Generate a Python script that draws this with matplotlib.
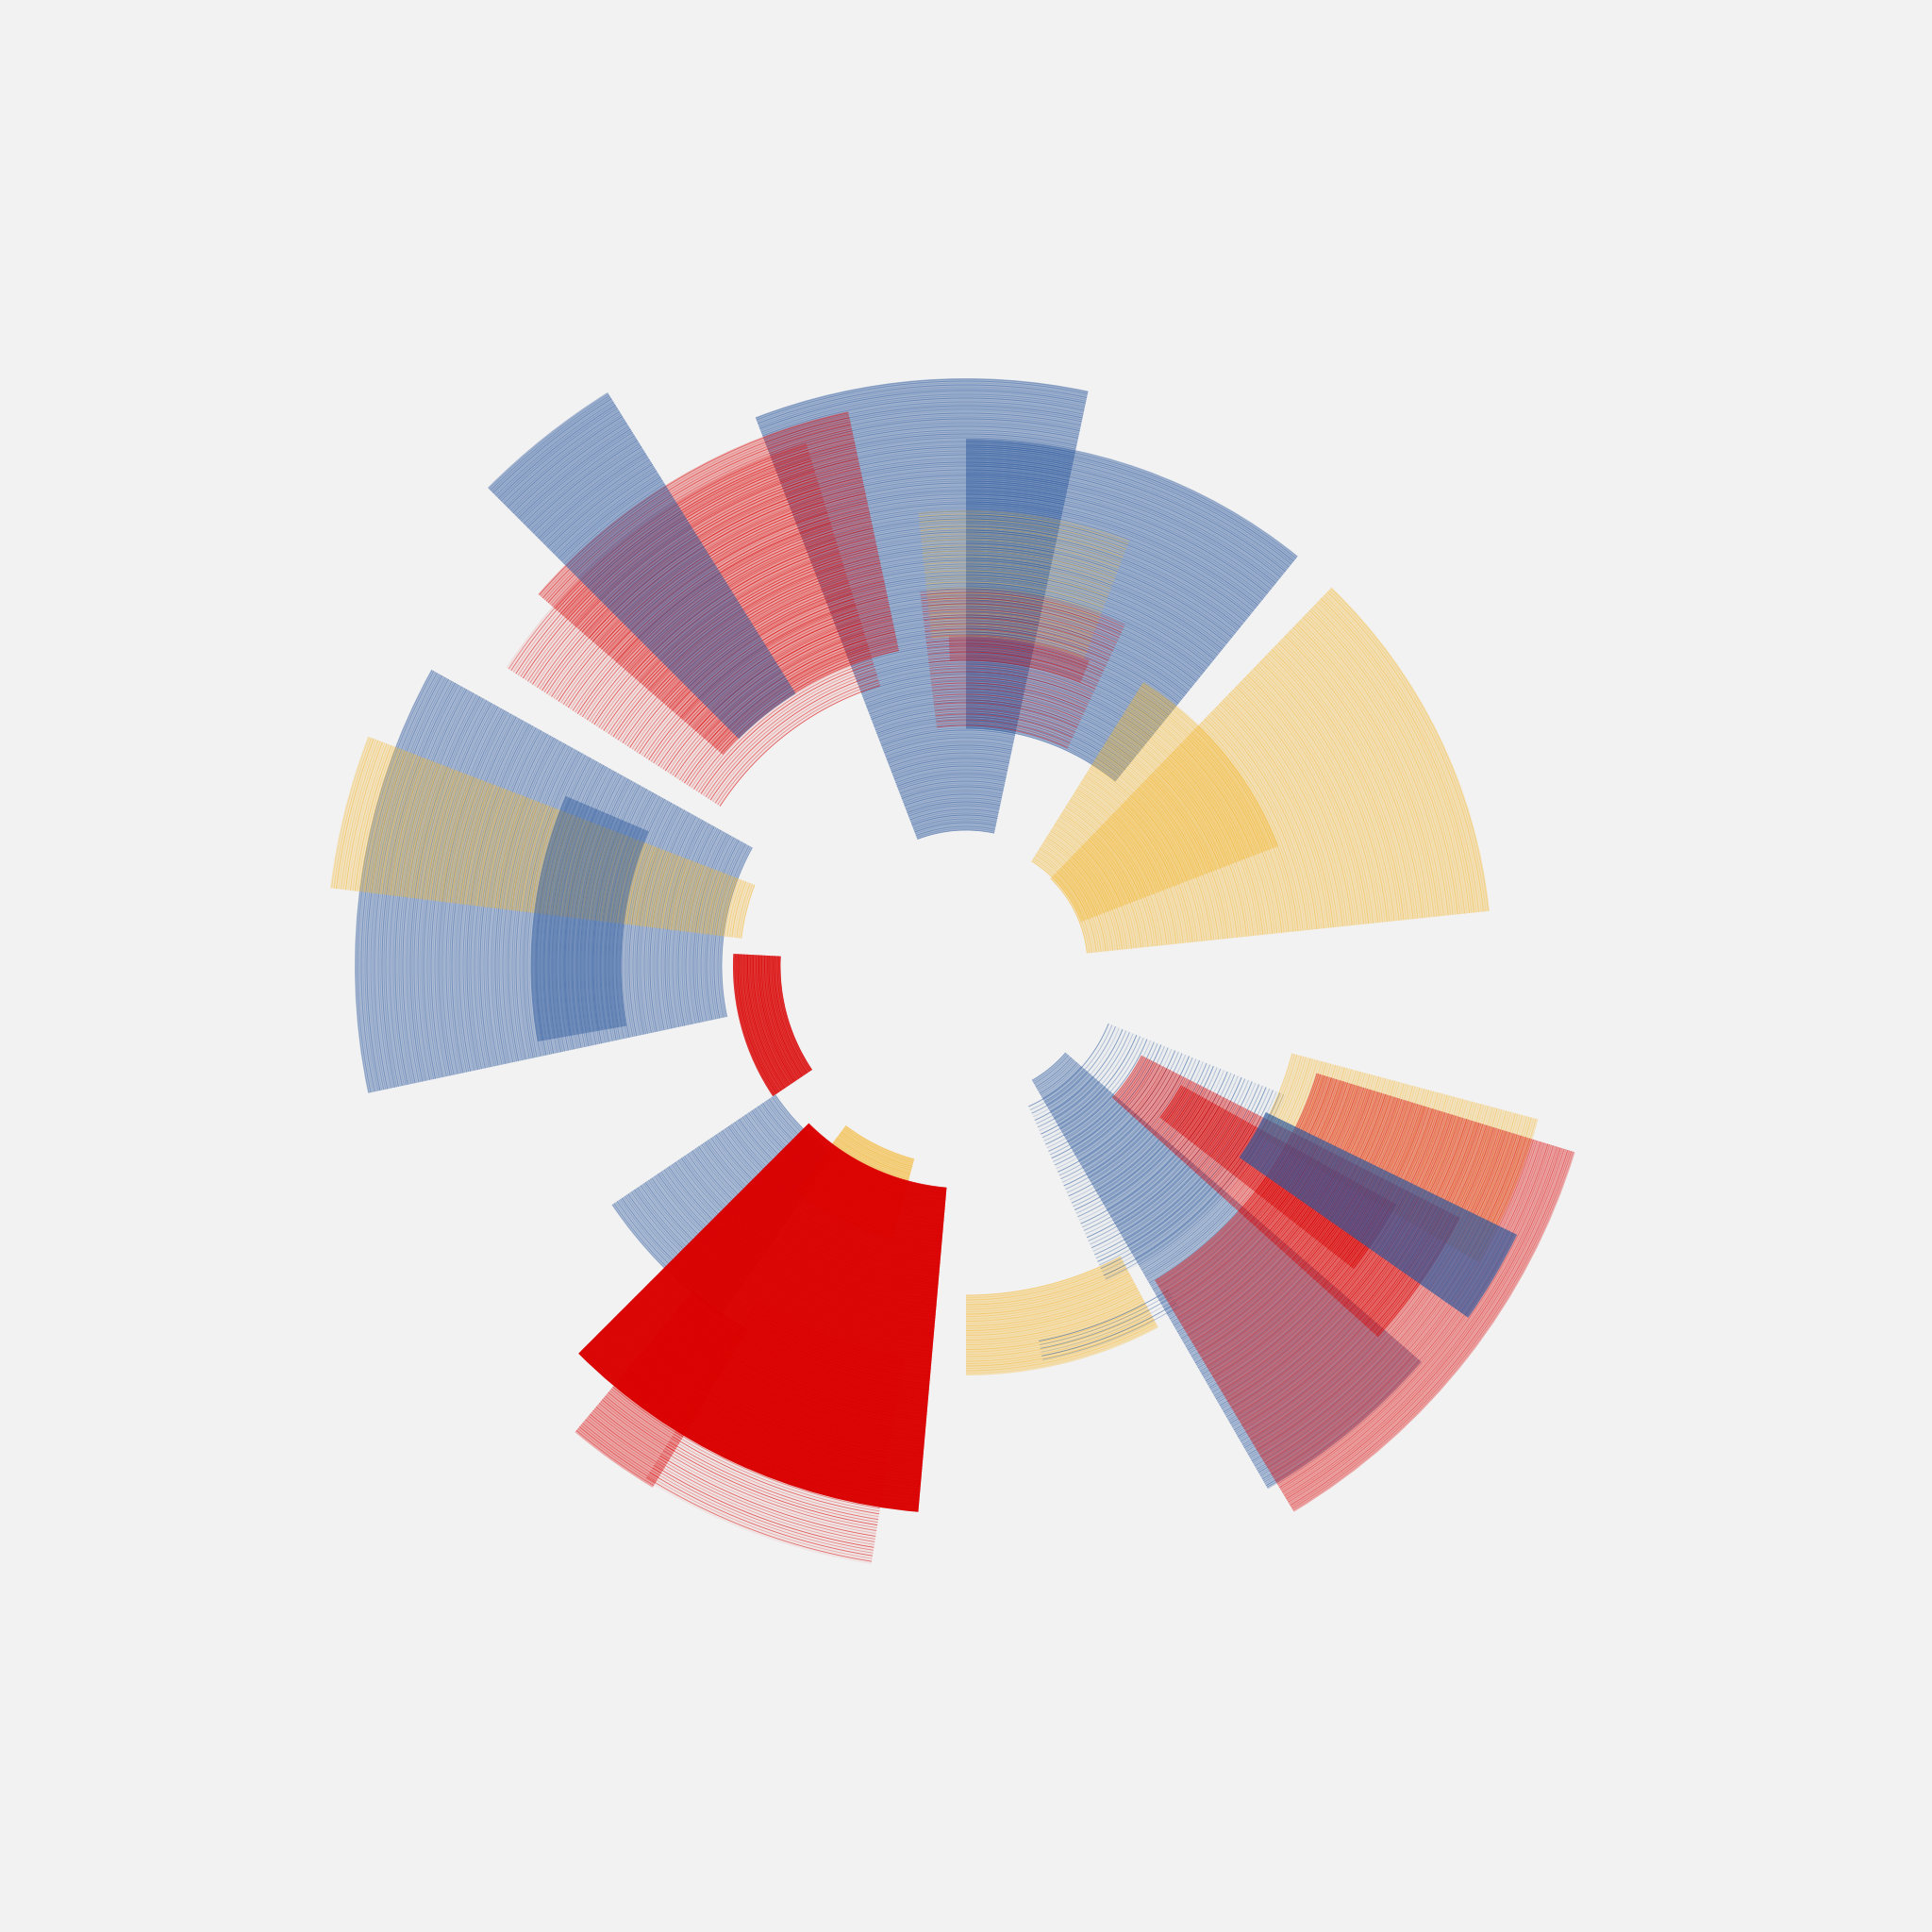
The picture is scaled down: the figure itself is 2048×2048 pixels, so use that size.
import numpy as np
import matplotlib.pyplot as plt
from matplotlib.collections import LineCollection
from matplotlib.colors import to_rgba

bg = '#f2f2f2'
palette = {'b': '#2f5b9f', 'r': '#db0000', 'y': '#f5b935'}

# wedges, in drawing order: angles in degrees (ccw from east), radii in pixels
start = [151, 159, 157, 78, 51, 107, 102, 122, 69, 65, 68, 21, 6,
         177, 214, 233, 230, 238, 225, 270, 281,
         294, 300, 330, 301, 318, 322, 325]
end = [192, 173, 190, 111, 90, 147, 139, 135, 96, 97, 93, 58, 46,
       214, 235, 255, 239, 261, 265, 298, 302,
       338, 319, 345, 343, 333, 331, 334]
inner = [259, 240, 366, 144, 252, 311, 342, 341, 350, 255, 325, 131, 129,
         197, 244, 212, 450, 420, 236, 349, 405,
         163, 140, 358, 389, 209, 261, 354]
outer = [648, 679, 461, 623, 559, 581, 601, 717, 484, 400, 350, 355, 558,
         247, 453, 300, 645, 642, 581, 434, 428,
         366, 640, 628, 675, 588, 522, 650]
colour = ['b', 'y', 'b', 'b', 'b', 'r', 'r', 'b', 'y', 'r', 'r', 'y', 'y',
          'r', 'b', 'y', 'r', 'r', 'r', 'y', 'b',
          'b', 'b', 'y', 'r', 'r', 'r', 'b']
fill_a = [0.35, 0.25, 0.35, 0.4, 0.4, 0.08, 0.25, 0.42, 0.05, 0.05, 0.1, 0.28, 0.3,
          0.75, 0.32, 0.55, 0.3, 0.05, 0.96, 0.35, 0.0,
          0.03, 0.32, 0.25, 0.3, 0.3, 0.35, 0.62]
line_a = [0.5, 0.6, 0.5, 0.55, 0.55, 0.6, 0.55, 0.5, 0.5, 0.5, 0.4, 0.5, 0.55,
          0.8, 0.5, 0.6, 0.5, 0.6, 0.8, 0.55, 0.6,
          0.6, 0.5, 0.5, 0.45, 0.5, 0.5, 0.55]
gap = [2, 2.5, 2, 2, 2, 3, 2.5, 2, 3, 3, 2, 2, 2.5,
       1.5, 2, 2, 2.5, 3, 1.5, 2.5, 4,
       4, 2, 2.5, 2, 2, 2, 2]

texture = [1.0, 0.55, 0.8, 0.35, 0.95, 0.6, 0.75, 0.45, 1.0, 0.7, 0.5, 0.9, 0.4, 0.85, 0.65]

fig = plt.figure(figsize=(20.48, 20.48), dpi=100, facecolor=bg)
ax = fig.add_axes([0, 0, 1, 1], projection='polar')
ax.set_facecolor(bg)
ax.set_ylim(0, 1024)
ax.axis('off')

px = 72 / 100  # points per pixel

for i in range(len(start)):
    t0, t1 = np.radians(start[i]), np.radians(end[i])
    c = palette[colour[i]]
    if fill_a[i] > 0:
        ax.bar((t0 + t1) / 2, outer[i] - inner[i], width=t1 - t0, bottom=inner[i],
               color=c, alpha=fill_a[i], linewidth=0, zorder=2 * i + 1)
    th = np.linspace(t0, t1, 90)
    radii = np.arange(inner[i], outer[i], gap[i])
    segs = [np.column_stack([th, np.full_like(th, r)]) for r in radii]
    cols = [to_rgba(c, line_a[i] * texture[k % len(texture)]) for k in range(len(radii))]
    ax.add_collection(LineCollection(segs, colors=cols, linewidths=0.9 * px,
                                     zorder=2 * i + 2))

fig.savefig('out.png', dpi=100, facecolor=bg)
